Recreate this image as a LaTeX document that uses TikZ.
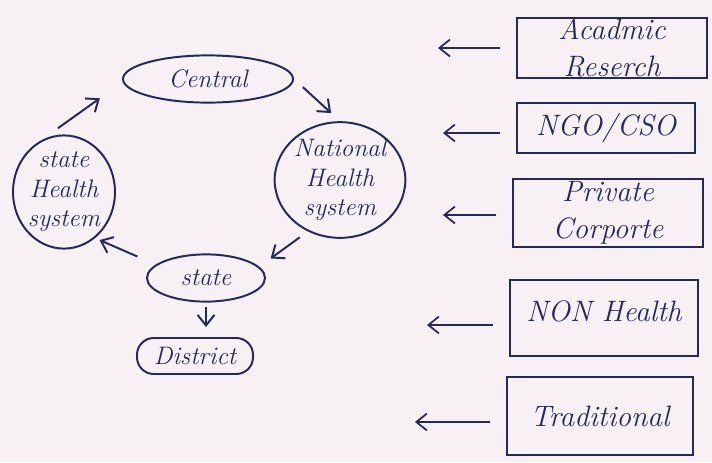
\documentclass[tikz,border=0pt]{standalone}
\usetikzlibrary{shapes.geometric,arrows.meta}
\definecolor{paper}{HTML}{F7F0F5}
\definecolor{ink}{HTML}{26285C}
\begin{document}
\begin{tikzpicture}[
        x=0.025cm, y=-0.025cm,
        >={Straight Barb[length=7.5pt,width=12pt]},
        every node/.style={text=ink, font=\fontsize{18}{21}\selectfont\itshape, align=center, inner sep=0pt},
        tier/.style={draw=ink, line width=1.4pt, ellipse},
        actor/.style={draw=ink, line width=1.4pt, rectangle, font=\fontsize{21}{26}\selectfont\itshape},
        flow/.style={draw=ink, line width=1.4pt, ->},
        feed/.style={draw=ink, line width=1.2pt, ->, shorten <=0.4cm},
    ]
    \fill[paper] (0,0) rectangle (712,462);

    \node[tier, minimum width=4.25cm, minimum height=1.18cm] (central) at (208,79) {Central};
    \node[tier, minimum width=3.25cm, minimum height=2.38cm] (national) at (340,180) {National\\Health\\system};
    \node[tier, minimum width=2.45cm, minimum height=2.03cm] (statehs) at (64,192) {state\\Health\\system};
    \node[tier, minimum width=2.95cm, minimum height=1.18cm] (state) at (206,278) {state};
    \node[draw=ink, line width=1.4pt, rounded corners=0.42cm, minimum width=2.9cm, minimum height=0.9cm] (district) at (195,356) {District};

    \node[actor, minimum width=4.73cm, minimum height=1.5cm] (acad) at (612,48) {Acadmic\\Reserch};
    \node[actor, minimum width=4.45cm, minimum height=1.25cm] (ngo) at (606,128) {NGO/CSO};
    \node[actor, minimum width=4.73cm, minimum height=1.68cm] (private) at (608,213) {Private\\Corporte};
    \node[actor, minimum width=4.7cm, minimum height=1.88cm, text depth=0.35cm] (nonhealth) at (604,318) {NON Health};
    \node[actor, minimum width=4.65cm, minimum height=1.95cm] (trad) at (600,416) {Traditional};

    \coordinate (acadTip) at (438,48);
    \coordinate (ngoTip) at (443,133);
    \coordinate (privateTip) at (443,215);
    \coordinate (nonhealthTip) at (427,325);
    \coordinate (tradTip) at (415,422);

    \draw[flow, shorten <=0.3cm, shorten >=0.3cm] (central.0) -- (national.90);
    \draw[flow, shorten <=0.25cm, shorten >=0.35cm] (national.238) -- (state.12);
    \draw[flow, shorten <=0.5cm, shorten >=0.12cm] (state.165) -- (statehs.-56);
    \draw[flow, shorten <=0.52cm, shorten >=0.7cm] (statehs.114.5) -- (central.182.6);
    \draw[flow, shorten <=0.1cm, shorten >=0.25cm] (state.south) -- (state.south |- district.north);

    \draw[feed] (acad.west) -- (acadTip);
    \draw[feed] (ngo.west |- ngoTip) -- (ngoTip);
    \draw[feed] (private.west |- privateTip) -- (privateTip);
    \draw[feed] (nonhealth.west |- nonhealthTip) -- (nonhealthTip);
    \draw[feed] (trad.west |- tradTip) -- (tradTip);
\end{tikzpicture}
\end{document}
